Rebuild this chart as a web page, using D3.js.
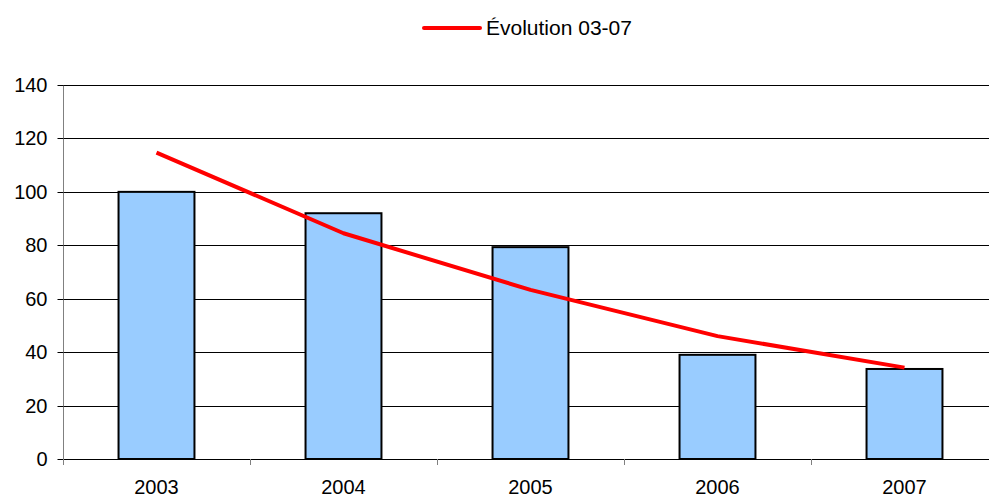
<!DOCTYPE html>
<html>
<head>
<meta charset="utf-8">
<script src="https://cdn.jsdelivr.net/npm/d3@7"></script>
<style>
  body { margin: 0; background: #fff; }
  svg { display: block; font-family: "Liberation Sans", Arial, sans-serif; }
</style>
</head>
<body>
<div id="chart-container"></div>
<script>
// Data
const years = ["2003", "2004", "2005", "2006", "2007"];
const barValues = [100, 92, 79.3, 39, 33.7];
const lineValues = [114.7, 84.5, 63.3, 46, 34.2];
const yTicks = [0, 20, 40, 60, 80, 100, 120, 140];
const legendLabel = "Évolution 03-07";

const W = 989, H = 498;
const margin = { top: 85, left: 63, bottom: 39 };
const plotRight = 998; // plot area runs past the right edge of the picture

const svg = d3.select("#chart-container")
  .append("svg")
  .attr("width", W)
  .attr("height", H);

const x = d3.scaleBand()
  .domain(years)
  .range([margin.left, plotRight]);

const y = d3.scaleLinear()
  .domain([0, 140])
  .range([H - margin.bottom, margin.top]);

// horizontal gridlines
svg.selectAll(".grid")
  .data(yTicks)
  .join("line")
  .attr("x1", margin.left)
  .attr("x2", plotRight)
  .attr("y1", d => Math.round(y(d)) + 0.5)
  .attr("y2", d => Math.round(y(d)) + 0.5)
  .attr("stroke", "#000")
  .attr("stroke-width", 1);

// y axis
const yAxis = svg.append("g")
  .attr("transform", `translate(${margin.left + 0.5},0.5)`)
  .call(d3.axisLeft(y).tickValues(yTicks).tickSize(6).tickPadding(10).tickFormat(d3.format("d")));
yAxis.select(".domain").attr("stroke", "#808080").attr("d", `M0,${Math.round(y(140))}V${Math.round(y(0))}`);
yAxis.selectAll(".tick line").attr("stroke", "#000");
yAxis.selectAll(".tick text").attr("font-size", 20).attr("fill", "#000")
  .attr("font-family", "Liberation Sans, Arial, sans-serif");
yAxis.selectAll(".tick").attr("transform", d => `translate(0,${Math.round(y(d))})`);

// x axis: ticks between categories
const xBound = years.map(d => x(d)).concat([plotRight]);
svg.selectAll(".xtick")
  .data(xBound)
  .join("line")
  .attr("x1", d => Math.round(d) + 0.5)
  .attr("x2", d => Math.round(d) + 0.5)
  .attr("y1", Math.round(y(0)))
  .attr("y2", Math.round(y(0)) + 6)
  .attr("stroke", "#808080");

svg.selectAll(".xlabel")
  .data(years)
  .join("text")
  .attr("x", d => x(d) + x.bandwidth() / 2)
  .attr("y", H - 4)
  .attr("text-anchor", "middle")
  .attr("font-size", 20)
  .attr("fill", "#000")
  .text(d => d);

// bars
const barW = x.bandwidth() * 0.406;
svg.selectAll(".bar")
  .data(years.map((d, i) => ({ year: d, value: barValues[i] })))
  .join("rect")
  .attr("x", d => x(d.year) + x.bandwidth() / 2 - barW / 2)
  .attr("y", d => y(d.value))
  .attr("width", barW)
  .attr("height", d => y(0) - y(d.value))
  .attr("fill", "#99ccff")
  .attr("stroke", "#000")
  .attr("stroke-width", 2);

// line
const line = d3.line()
  .x((d, i) => x(years[i]) + x.bandwidth() / 2)
  .y(d => y(d));

svg.append("path")
  .datum(lineValues)
  .attr("fill", "none")
  .attr("stroke", "#ff0000")
  .attr("stroke-width", 4)
  .attr("stroke-linejoin", "round")
  .attr("d", line);

// legend
const legend = svg.append("g").attr("transform", "translate(424,28)");
legend.append("line")
  .attr("x1", 0).attr("x2", 56)
  .attr("y1", 0).attr("y2", 0)
  .attr("stroke", "#ff0000")
  .attr("stroke-width", 4)
  .attr("stroke-linecap", "round");
legend.append("text")
  .attr("x", 62)
  .attr("y", 7)
  .attr("font-size", 21)
  .attr("fill", "#000")
  .text(legendLabel);
</script>
</body>
</html>
